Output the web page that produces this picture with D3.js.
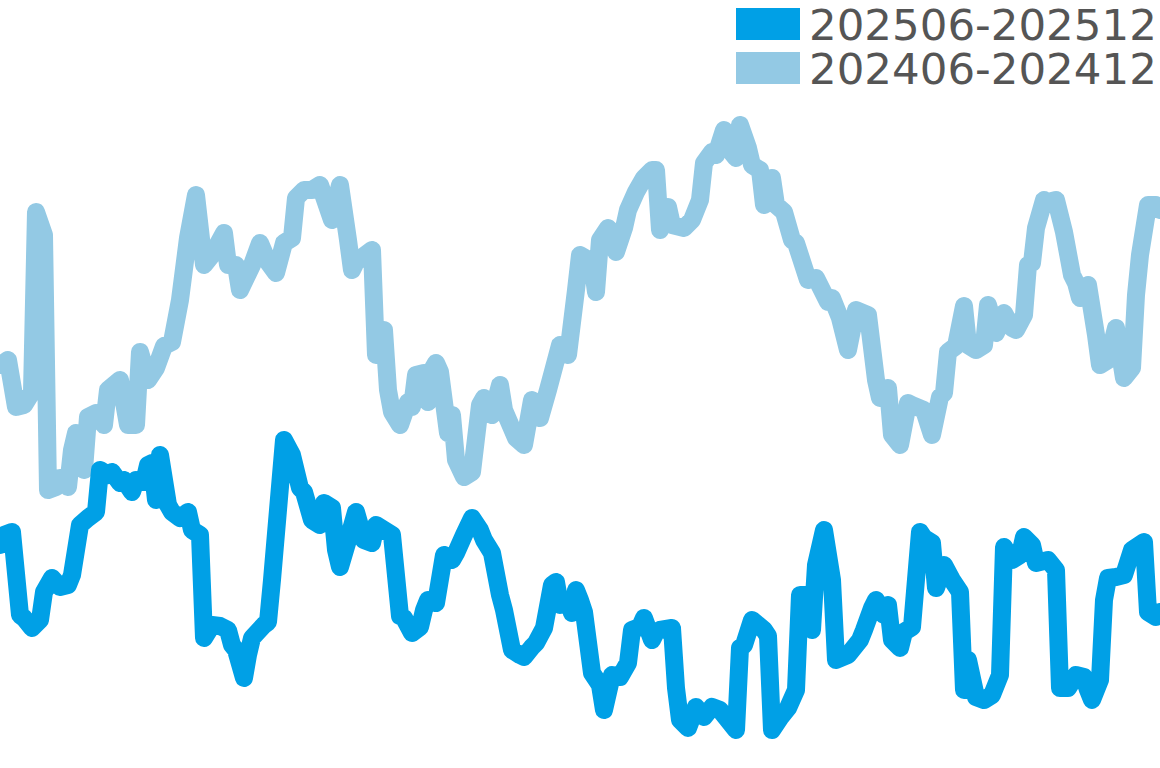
<!DOCTYPE html>
<html>
<head>
<meta charset="utf-8">
<script src="https://cdn.jsdelivr.net/npm/d3@7"></script>
<style>
  body { margin: 0; background: #fff; }
  svg { display: block; }
</style>
</head>
<body>
<div id="chart"></div>
<script>
const seriesNames = ["202506-202512", "202406-202412"];
const seriesColors = ["#00a0e6", "#93c9e4"];

// step index along the period, and index level
const recentSteps = [0, 1, 3, 5, 6, 8, 10, 11, 13, 15, 17, 18, 20, 22, 24, 25, 27, 28, 30, 31,
  33, 34, 36, 37, 38, 39, 40, 42, 43, 45, 47, 48, 50, 51, 53, 55, 57, 58, 59, 61,
  62, 63, 66, 67, 68, 71, 73, 75, 76, 78, 80, 81, 83, 84, 85, 87, 89, 91, 93, 94,
  96, 98, 100, 101, 103, 105, 106, 107, 109, 111, 113, 114, 116, 118, 120, 121, 123, 125, 126, 128,
  130, 131, 133, 134, 136, 138, 139, 140, 142, 143, 144, 145, 146, 148, 150, 151, 153, 155, 157, 158,
  160, 161, 163, 164, 165, 168, 169, 170, 172, 174, 176, 178, 180, 182, 184, 185, 186, 188, 191, 192,
  193, 195, 197, 199, 200, 202, 203, 204, 206, 208, 209, 212, 215, 216, 218, 219, 221, 222, 223, 225,
  226, 228, 230, 231, 233, 234, 236, 238, 240, 241, 242, 244, 246, 248, 250, 251, 253, 255, 256, 258,
  259, 260, 262, 264, 265, 267, 269, 271, 272, 273, 275, 276, 277, 279, 281, 283, 286, 287, 289, 290];
const recentValues = [223, 233, 236, 153, 150, 140, 148, 176, 190, 181, 183, 193, 243, 250, 256, 298, 293, 296, 285, 288,
  276, 288, 286, 303, 305, 268, 313, 263, 256, 250, 256, 238, 233, 130, 143, 142, 138, 123, 118, 90,
  113, 130, 143, 146, 188, 328, 313, 280, 276, 248, 243, 265, 260, 218, 201, 228, 256, 228, 225, 243,
  238, 233, 152, 150, 135, 141, 158, 168, 165, 213, 208, 215, 233, 250, 238, 228, 215, 173, 158, 118,
  113, 111, 121, 125, 140, 183, 186, 163, 168, 155, 178, 168, 156, 95, 83, 58, 93, 91, 105, 138,
  141, 150, 128, 136, 138, 140, 80, 48, 40, 61, 51, 61, 58, 48, 38, 120, 123, 148, 138, 132,
  38, 50, 60, 78, 173, 173, 138, 203, 238, 188, 108, 113, 128, 138, 160, 168, 153, 163, 128, 120,
  136, 141, 236, 230, 225, 180, 203, 188, 176, 78, 108, 71, 68, 73, 93, 221, 208, 213, 231, 223,
  205, 206, 208, 198, 80, 80, 93, 91, 78, 68, 88, 168, 190, 191, 193, 218, 226, 156, 151, 156];

const lastSteps = [0, 2, 4, 6, 8, 9, 11, 12, 14, 15, 17, 18, 19, 21, 22, 24, 26, 27, 30, 32,
  34, 35, 37, 39, 41, 43, 45, 47, 49, 51, 53, 56, 57, 59, 60, 63, 65, 67, 69, 71,
  73, 74, 76, 78, 80, 83, 85, 87, 88, 89, 93, 94, 96, 97, 98, 100, 102, 103, 104, 106,
  107, 108, 109, 110, 112, 113, 114, 116, 118, 120, 121, 123, 125, 126, 129, 131, 133, 135, 137, 138,
  140, 142, 144, 145, 148, 149, 150, 152, 154, 156, 157, 159, 161, 163, 164, 165, 167, 168, 171, 173,
  175, 176, 178, 179, 181, 182, 184, 185, 187, 188, 190, 191, 193, 194, 196, 198, 199, 202, 204, 207,
  208, 210, 212, 214, 217, 219, 220, 222, 223, 225, 227, 228, 231, 233, 235, 236, 237, 239, 241, 242,
  244, 246, 247, 249, 251, 253, 254, 256, 257, 258, 259, 261, 262, 264, 266, 268, 269, 270, 272, 274,
  275, 277, 279, 281, 283, 284, 285, 287, 289, 290];
const lastValues = [403, 408, 361, 363, 376, 556, 533, 278, 281, 290, 281, 318, 335, 298, 351, 355, 343, 378, 388, 343,
  343, 416, 388, 400, 422, 426, 468, 530, 573, 503, 513, 535, 503, 503, 478, 503, 525, 506, 495, 525,
  530, 570, 578, 578, 583, 548, 583, 528, 498, 506, 518, 413, 438, 378, 356, 343, 366, 361, 393, 395,
  366, 398, 405, 396, 335, 353, 308, 291, 296, 363, 370, 353, 383, 358, 330, 323, 368, 350, 378, 393,
  423, 413, 478, 513, 506, 476, 528, 540, 516, 540, 558, 576, 590, 598, 598, 538, 561, 543, 540, 548,
  568, 605, 616, 613, 638, 620, 610, 643, 620, 603, 598, 563, 590, 563, 556, 528, 525, 488, 490, 466,
  470, 450, 418, 458, 453, 388, 370, 380, 333, 323, 365, 363, 358, 333, 371, 375, 416, 422, 462, 423,
  418, 423, 463, 435, 455, 440, 438, 453, 503, 505, 540, 568, 566, 568, 536, 493, 485, 470, 483, 433,
  403, 408, 440, 390, 400, 473, 513, 563, 563, 558];

const width = 1160;
const height = 768;

const x = d3.scaleLinear().domain([0, 290]).range([0, width]);
const y = d3.scaleLinear().domain([0, 768]).range([height, 0]);

const svg = d3
  .select("#chart")
  .append("svg")
  .attr("width", width)
  .attr("height", height);

const line = d3
  .line()
  .x((d) => x(d[0]))
  .y((d) => y(d[1]));

const series = [
  { name: seriesNames[1], color: seriesColors[1], points: d3.zip(lastSteps, lastValues) },
  { name: seriesNames[0], color: seriesColors[0], points: d3.zip(recentSteps, recentValues) },
];

svg
  .append("g")
  .selectAll("path")
  .data(series)
  .join("path")
  .attr("fill", "none")
  .attr("stroke", (d) => d.color)
  .attr("stroke-width", 18)
  .attr("stroke-linejoin", "round")
  .attr("stroke-linecap", "round")
  .attr("d", (d) => line(d.points));

// legend, top right
const legend = svg
  .append("g")
  .selectAll("g")
  .data(seriesNames)
  .join("g")
  .attr("transform", (d, i) => `translate(736,${8 + i * 44})`);

legend
  .append("rect")
  .attr("width", 64)
  .attr("height", 32)
  .attr("fill", (d, i) => seriesColors[i]);

legend
  .append("text")
  .text((d) => d)
  .attr("x", 73)
  .attr("y", 32)
  .attr("fill", "#555")
  .attr("font-family", "DejaVu Sans")
  .attr("font-size", 43.5);
</script>
</body>
</html>
